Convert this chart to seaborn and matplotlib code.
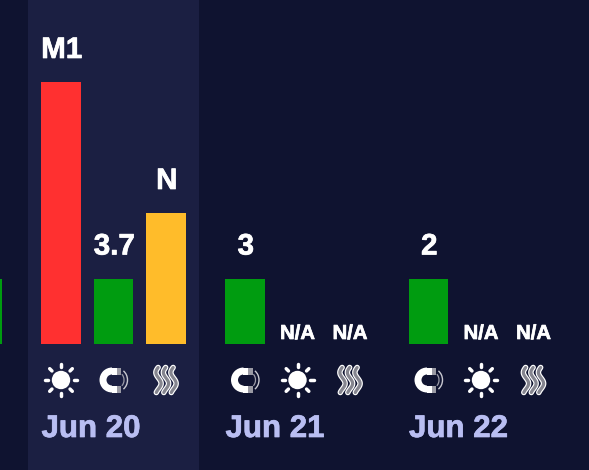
import matplotlib
matplotlib.use('Agg')
import matplotlib.pyplot as plt
import matplotlib.patheffects as pe
import numpy as np
import pandas as pd
import seaborn as sns
from matplotlib.patches import Circle, Rectangle, Wedge, Arc

# chart values
days = ['Jun 19', 'Jun 20', 'Jun 21', 'Jun 22']
icons = ['heat', 'sun', 'magnet', 'heat', 'magnet', 'sun', 'heat', 'magnet', 'sun', 'heat']
bar_days = ['Jun 19', 'Jun 20', 'Jun 20', 'Jun 20', 'Jun 21', 'Jun 21', 'Jun 21', 'Jun 22', 'Jun 22', 'Jun 22']
levels = [1, 4, 1, 2, 1, 0, 0, 1, 0, 0]
labels = ['', 'M1', '3.7', 'N', '3', 'N/A', 'N/A', '2', 'N/A', 'N/A']
level_names = ['green', 'red', 'green', 'yellow', 'green', 'green', 'green', 'green', 'green', 'green']

BG = '#0f1330'
BAND = '#1b1f42'
WHITE = '#ffffff'
DATE = '#b9bef2'
palette = {'red': '#ff3030', 'green': '#009c10', 'yellow': '#ffbc2a'}

# layout in pixels
W, H = 589, 470
BASE_Y = 344
UNIT = 65.5
SLOT = 52.5
BAR_W = 39.5
day_x = {'Jun 19': -123, 'Jun 20': 61, 'Jun 21': 245, 'Jun 22': 428.5}

xpos = []
seen = {}
for d in bar_days:
    seen[d] = seen.get(d, -1) + 1
    xpos.append(day_x[d] + seen[d] * SLOT)
xpos[0] = day_x['Jun 19'] + 2 * SLOT + 0.5

# bars with no level (N/A) stay out of the table, a zero height bar still draws a line
df = pd.DataFrame({'x': xpos, 'level': levels, 'name': level_names})
df = df[df['level'] > 0]

sns.set_theme(style='white')
plt.rcParams['font.family'] = ['Liberation Sans', 'DejaVu Sans']

fig = plt.figure(figsize=(W / 100, H / 100), dpi=100, facecolor=BG)
ax = fig.add_axes([0, 0, 1, 1], facecolor=BG)
ax.axvspan(28, 199, color=BAND, lw=0, zorder=0)
sns.barplot(data=df, x='x', y='level', hue='name', palette=palette, native_scale=True,
            dodge=False, width=BAR_W / (xpos[2] - xpos[1]), saturation=1, legend=False, ax=ax,
            zorder=2, linewidth=0, edgecolor='none')
ax.set_xlim(0, W)
ax.set_ylim(-(H - BASE_Y) / UNIT, BASE_Y / UNIT)
ax.axis('off')

# overlay in pixel coordinates for texts and icons
px = fig.add_axes([0, 0, 1, 1], facecolor='none')
px.set_xlim(0, W)
px.set_ylim(H, 0)
px.axis('off')


def draw_sun(cx, cy):
    px.add_patch(Circle((cx, cy), 9.2, fc=WHITE, ec='none'))
    for a in np.arange(0, 360, 45):
        c, s = np.cos(np.radians(a)), np.sin(np.radians(a))
        px.plot([cx + 12.8 * c, cx + 16 * c], [cy + 12.8 * s, cy + 16 * s],
                color=WHITE, lw=2.5, solid_capstyle='round')


def draw_magnet(cx, cy):
    x0 = cx - 1.5
    px.add_patch(Wedge((x0, cy), 12.5, 90, 270, width=7, fc=WHITE, ec='none'))
    px.add_patch(Rectangle((x0 - 0.5, cy - 12.5), 5, 7, fc=WHITE, ec='none'))
    px.add_patch(Rectangle((x0 - 0.5, cy + 5.5), 5, 7, fc=WHITE, ec='none'))
    px.add_patch(Rectangle((x0 + 4.5, cy - 12.5), 4.5, 7, fc='#9a9aa4', ec='none'))
    px.add_patch(Rectangle((x0 + 4.5, cy + 5.5), 4.5, 7, fc='#9a9aa4', ec='none'))
    px.add_patch(Arc((x0 + 5, cy), 14, 16, theta1=-50, theta2=50, color='#9c9ca8', lw=0.9))
    px.add_patch(Arc((x0 + 5, cy), 21, 23, theta1=-55, theta2=55, color='#c8c8d0', lw=1.0))


def draw_heat(cx, cy):
    t = np.linspace(-12.5, 12.5, 60)
    for off in (-7.5, 0, 7.5):
        xs = cx + off + 2.6 * np.sin(2 * np.pi * (t + 2) / 22)
        px.plot(xs, cy + t, color=WHITE, lw=4.0, solid_capstyle='round')
        px.plot(xs, cy + t, color='#85858f', lw=2.3, solid_capstyle='round')


heavy = [pe.withStroke(linewidth=0.5, foreground=WHITE)]
heavy_date = [pe.withStroke(linewidth=0.5, foreground=DATE)]

draw = {'sun': draw_sun, 'magnet': draw_magnet, 'heat': draw_heat}
for x, kind, lab, lev in zip(xpos, icons, labels, levels):
    if x > 0:
        draw[kind](x, 380)
    if lab == 'N/A':
        px.text(x, 339, lab, color=WHITE, fontsize=14.6, fontweight='bold', ha='center', va='baseline',
                path_effects=heavy)
    elif lab:
        px.text(x + 0.8, BASE_Y - lev * UNIT - 24, lab, color=WHITE, fontsize=21.3, fontweight='bold',
                ha='center', va='baseline', path_effects=heavy)

for d in days[1:]:
    px.text(day_x[d] - 19.5, 437, d, color=DATE, fontsize=22.5, fontweight='bold', ha='left', va='baseline',
            path_effects=heavy_date)

fig.savefig('out.png', dpi=100, facecolor=BG)
